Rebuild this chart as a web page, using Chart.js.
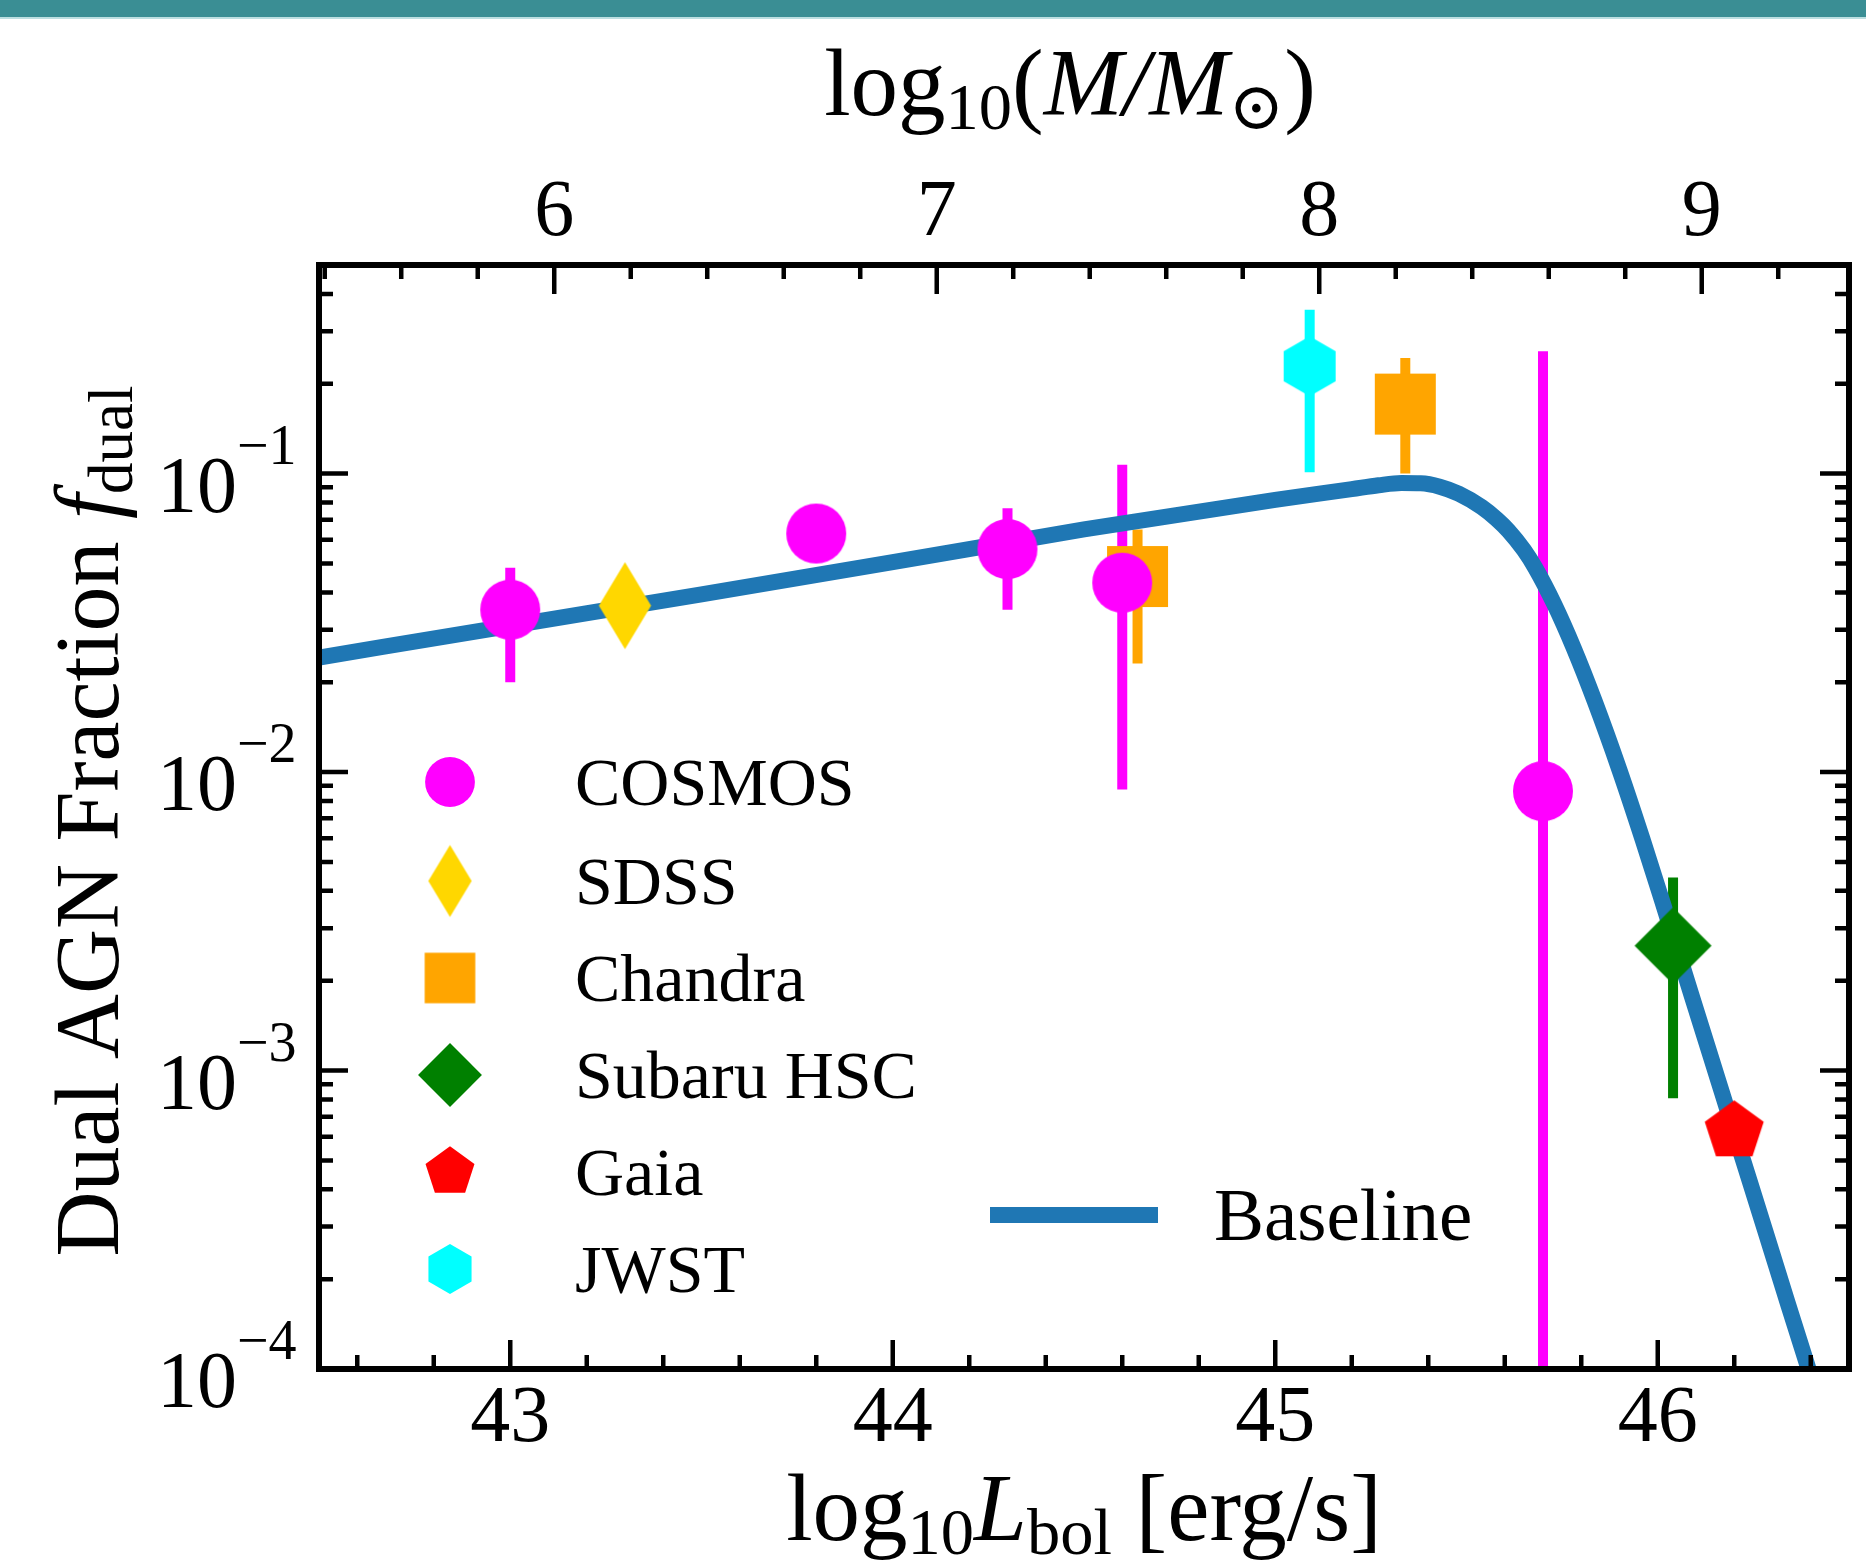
<!DOCTYPE html>
<html>
<head>
<meta charset="utf-8">
<script src="https://cdn.jsdelivr.net/npm/chart.js@4.4.1/dist/chart.umd.min.js"></script>
<style>
  html, body { margin: 0; padding: 0; background: #fff; }
  canvas { display: block; }
</style>
</head>
<body>
<canvas id="fdualChart" width="1866" height="1563"></canvas>
<script>
// log10 Lbol of each measurement, dual fraction and its error range
var cosmosL  = [43.00, 43.80, 44.30, 44.60, 45.70];
var cosmosF  = [0.0350, 0.0630, 0.0559, 0.0431, 0.00863];
var cosmosLo = [0.0200, null, 0.0350, 0.00875, 0.00005];
var cosmosHi = [0.0484, null, 0.0766, 0.107, 0.257];

var sdssL = [43.30];
var sdssF = [0.0361];

var chandraL  = [44.64, 45.34];
var chandraF  = [0.0452, 0.171];
var chandraLo = [0.0231, 0.100];
var chandraHi = [0.065, 0.244];

var hscL  = [46.04];
var hscF  = [0.00262];
var hscLo = [0.000807];
var hscHi = [0.00443];

var gaiaL = [46.20];
var gaiaF = [0.000626];

var jwstL  = [45.09];
var jwstF  = [0.229];
var jwstLo = [0.101];
var jwstHi = [0.354];

// baseline model curve
var baseL = [42.50, 43.00, 43.50, 44.00, 44.50, 45.00, 45.20, 45.27, 45.33, 45.38, 45.43, 45.48,
             45.54, 45.58, 45.61, 45.65, 45.68, 45.73, 45.78, 45.835, 45.90, 45.96, 46.01, 46.09,
             46.16, 46.22, 46.28, 46.34, 46.39, 46.42];
var baseF = [0.0242, 0.0309, 0.0394, 0.0505, 0.0650, 0.0817, 0.0887, 0.0914, 0.0930, 0.0928, 0.0904, 0.0856,
             0.0772, 0.0702, 0.0643, 0.0555, 0.0483, 0.0364, 0.0261, 0.0173, 0.01016, 0.00597, 0.00375, 0.00176,
             0.000909, 0.000516, 0.000293, 0.000166, 0.000104, 0.0000781];

var seriesNames = ['COSMOS', 'SDSS', 'Chandra', 'Subaru HSC', 'Gaia', 'JWST'];
var baselineName = 'Baseline';

// axis ticks
var xTicks = [42.6, 42.8, 43.0, 43.2, 43.4, 43.6, 43.8, 44.0, 44.2, 44.4, 44.6, 44.8, 45.0,
              45.2, 45.4, 45.6, 45.8, 46.0, 46.2, 46.4];
var xLabels = [43, 44, 45, 46];
var mTicks = [5.4, 5.6, 5.8, 6.0, 6.2, 6.4, 6.6, 6.8, 7.0, 7.2, 7.4, 7.6, 7.8, 8.0,
              8.2, 8.4, 8.6, 8.8, 9.0, 9.2];
var mLabels = [6, 7, 8, 9];
var massOffset = 37.115;   // log M = log Lbol - offset
var yTicks = [0.0002, 0.0003, 0.0004, 0.0005, 0.0006, 0.0007, 0.0008, 0.0009, 0.001,
              0.002, 0.003, 0.004, 0.005, 0.006, 0.007, 0.008, 0.009, 0.01,
              0.02, 0.03, 0.04, 0.05, 0.06, 0.07, 0.08, 0.09, 0.1,
              0.2, 0.3, 0.4, 0.0001];
var yLabels = [0.0001, 0.001, 0.01, 0.1];
var yExp = ['\u22124', '\u22123', '\u22122', '\u22121'];

var FAM = '"Liberation Serif", "DejaVu Serif", serif';

// marker shapes drawn once into small canvases
function marker(kind, color, s) {
  var size = Math.ceil(2 * s + 4);
  var c = document.createElement('canvas');
  c.width = size; c.height = size;
  var g = c.getContext('2d');
  g.translate(size / 2, size / 2);
  g.fillStyle = color;
  g.beginPath();
  var i, a;
  if (kind === 'circle') {
    g.arc(0, 0, s, 0, Math.PI * 2);
  } else if (kind === 'thin_diamond') {
    g.moveTo(0, -s); g.lineTo(s * 0.6, 0); g.lineTo(0, s); g.lineTo(-s * 0.6, 0);
  } else if (kind === 'square') {
    g.rect(-s, -s, 2 * s, 2 * s);
  } else if (kind === 'diamond') {
    g.moveTo(0, -s); g.lineTo(s, 0); g.lineTo(0, s); g.lineTo(-s, 0);
  } else if (kind === 'pentagon' || kind === 'hexagon') {
    var n = kind === 'pentagon' ? 5 : 6;
    for (i = 0; i < n; i++) {
      a = -Math.PI / 2 + i * 2 * Math.PI / n;
      if (i === 0) g.moveTo(s * Math.cos(a), s * Math.sin(a));
      else g.lineTo(s * Math.cos(a), s * Math.sin(a));
    }
  }
  g.closePath();
  g.fill();
  return c;
}

var colors = ['#ff00ff', '#ffd700', '#ffa500', '#008000', '#ff0000', '#00ffff'];
var kinds = ['circle', 'thin_diamond', 'square', 'diamond', 'pentagon', 'hexagon'];
var sizes = [30, 43.5, 30.5, 38.5, 31, 30];
var plotMarks = kinds.map(function (k, i) { return marker(k, colors[i], sizes[i]); });
var legendMarks = kinds.map(function (k, i) { return marker(k, colors[i], sizes[i] * 0.83); });

function pts(L, F) {
  return L.map(function (x, i) { return { x: x, y: F[i] }; });
}

function errBars(L, lo, hi, color) {
  var out = [];
  for (var i = 0; i < L.length; i++) {
    if (lo[i] == null) continue;
    out.push({
      data: [{ x: L[i], y: lo[i] }, { x: L[i], y: hi[i] }],
      showLine: true, borderColor: color, borderWidth: 10, borderCapStyle: 'butt',
      pointRadius: 0, order: 3, clip: 0
    });
  }
  return out;
}

function markSet(L, F, idx) {
  return {
    label: seriesNames[idx], data: pts(L, F), pointStyle: plotMarks[idx],
    pointRadius: 30, backgroundColor: colors[idx], borderWidth: 0, order: 1, clip: false
  };
}

var datasets = []
  .concat(errBars(cosmosL, cosmosLo, cosmosHi, colors[0]))
  .concat(errBars(chandraL, chandraLo, chandraHi, colors[2]))
  .concat(errBars(hscL, hscLo, hscHi, colors[3]))
  .concat(errBars(jwstL, jwstLo, jwstHi, colors[5]))
  .concat([{
    label: baselineName, data: pts(baseL, baseF), showLine: true,
    borderColor: '#1f77b4', borderWidth: 16, borderJoinStyle: 'round',
    cubicInterpolationMode: 'monotone', pointRadius: 0, order: 2, clip: 0
  }])
  .concat([
    markSet(cosmosL, cosmosF, 0),
    markSet(sdssL, sdssF, 1),
    markSet(chandraL, chandraF, 2),
    markSet(hscL, hscF, 3),
    markSet(gaiaL, gaiaF, 4),
    markSet(jwstL, jwstF, 5)
  ]);

function rich(ctx, parts, x, y, size) {
  function fontFor(k) {
    var s = (k === 'b') ? size * 0.7 : size;
    return (k === 'i' ? 'italic ' : '') + s + 'px ' + FAM;
  }
  var total = 0;
  parts.forEach(function (p) { ctx.font = fontFor(p[1]); total += ctx.measureText(p[0]).width; });
  var cx = x - total / 2;
  ctx.textAlign = 'left';
  ctx.textBaseline = 'alphabetic';
  parts.forEach(function (p) {
    ctx.font = fontFor(p[1]);
    ctx.fillText(p[0], cx, y + (p[1] === 'b' ? size * 0.15 : 0));
    cx += ctx.measureText(p[0]).width;
  });
}

var decor = {
  id: 'decor',
  beforeDraw: function (chart) {
    var ctx = chart.ctx;
    ctx.save();
    ctx.fillStyle = '#fff';
    ctx.fillRect(0, 0, chart.width, chart.height);
    ctx.fillStyle = '#3a8e94';
    ctx.fillRect(0, 0, chart.width, 17);
    ctx.fillStyle = '#bcdfe1';
    ctx.fillRect(0, 17, chart.width, 2);
    ctx.restore();
  },
  afterDraw: function (chart) {
    var ctx = chart.ctx, a = chart.chartArea;
    var sx = chart.scales.x, sm = chart.scales.m, sy = chart.scales.y;
    ctx.save();
    ctx.strokeStyle = '#000';
    ctx.fillStyle = '#000';

    // inward ticks on all sides
    ctx.lineWidth = 4.5;
    ctx.beginPath();
    sx.ticks.forEach(function (t) {
      var px = sx.getPixelForValue(t.value);
      var len = xLabels.indexOf(Math.round(t.value * 10) / 10) >= 0 ? 29 : 14;
      ctx.moveTo(px, a.bottom); ctx.lineTo(px, a.bottom - len);
    });
    sm.ticks.forEach(function (t) {
      var px = sm.getPixelForValue(t.value);
      if (px < a.left + 3 || px > a.right - 3) return;
      var len = mLabels.indexOf(Math.round(t.value * 10) / 10) >= 0 ? 29 : 14;
      ctx.moveTo(px, a.top); ctx.lineTo(px, a.top + len);
    });
    sy.ticks.forEach(function (t) {
      var py = sy.getPixelForValue(t.value);
      var len = yLabels.indexOf(t.value) >= 0 ? 29 : 14;
      ctx.moveTo(a.left, py); ctx.lineTo(a.left + len, py);
      ctx.moveTo(a.right, py); ctx.lineTo(a.right - len, py);
    });
    ctx.stroke();

    // frame
    ctx.lineWidth = 6;
    ctx.strokeRect(a.left, a.top, a.right - a.left, a.bottom - a.top);

    // y tick labels 10^n
    yLabels.forEach(function (v, i) {
      var py = sy.getPixelForValue(v);
      ctx.font = '80px ' + FAM;
      ctx.textAlign = 'right';
      ctx.textBaseline = 'alphabetic';
      ctx.fillText('10', 237, py + 38);
      ctx.font = '56px ' + FAM;
      ctx.textAlign = 'left';
      ctx.fillText(yExp[i], 237, py - 10);
    });

    // axis titles
    var cxm = (a.left + a.right) / 2;
    rich(ctx, [['log', 'r'], ['10', 'b'], ['L', 'i'], ['bol', 'b'], [' [erg/s]', 'r']], cxm, 1540, 95);
    rich(ctx, [['log', 'r'], ['10', 'b'], ['(', 'r'], ['M', 'i'], ['/', 'i'], ['M', 'i'], ['\u2299', 'b'], [')', 'r']], cxm - 14, 115, 95);
    ctx.save();
    ctx.translate(118, (a.top + a.bottom) / 2 + 4);
    ctx.rotate(-Math.PI / 2);
    rich(ctx, [['Dual AGN Fraction ', 'r'], ['f', 'i'], ['dual', 'b']], 0, 0, 90);
    ctx.restore();

    // legend
    var rowY = [782, 881, 978, 1075, 1172, 1269];
    ctx.font = '68px ' + FAM;
    ctx.textAlign = 'left';
    ctx.textBaseline = 'alphabetic';
    seriesNames.forEach(function (name, i) {
      var m = legendMarks[i];
      ctx.drawImage(m, 450 - m.width / 2, rowY[i] - m.height / 2);
      ctx.fillText(name, 575, rowY[i] + 23);
    });
    ctx.strokeStyle = '#1f77b4';
    ctx.lineWidth = 16;
    ctx.lineCap = 'butt';
    ctx.beginPath();
    ctx.moveTo(990, 1215); ctx.lineTo(1158, 1215);
    ctx.stroke();
    ctx.font = '75px ' + FAM;
    ctx.fillText(baselineName, 1214, 1240);
    ctx.restore();
  }
};

new Chart(document.getElementById('fdualChart'), {
  type: 'scatter',
  data: { datasets: datasets },
  options: {
    responsive: false,
    animation: false,
    devicePixelRatio: 1,
    layout: { autoPadding: false, padding: { left: 0, right: 17, top: 0, bottom: 0 } },
    plugins: { legend: { display: false }, tooltip: { enabled: false } },
    scales: {
      x: {
        type: 'linear', position: 'bottom', min: 42.5, max: 46.5, bounds: 'data',
        grid: { display: false }, border: { display: false },
        afterBuildTicks: function (s) { s.ticks = xTicks.map(function (v) { return { value: v }; }); },
        afterFit: function (s) { s.height = 194; },
        ticks: {
          autoSkip: false, maxRotation: 0, minRotation: 0, padding: -5, color: '#000',
          font: { family: FAM, size: 80 },
          callback: function (v) { return xLabels.indexOf(Math.round(v * 10) / 10) >= 0 ? String(Math.round(v)) : ''; }
        }
      },
      m: {
        type: 'linear', position: 'top', min: 42.5 - massOffset, max: 46.5 - massOffset, bounds: 'data',
        grid: { display: false }, border: { display: false },
        afterBuildTicks: function (s) { s.ticks = mTicks.map(function (v) { return { value: v }; }); },
        afterFit: function (s) { s.height = 265; },
        ticks: {
          autoSkip: false, maxRotation: 0, minRotation: 0, padding: -5, color: '#000',
          font: { family: FAM, size: 80 },
          callback: function (v) { return mLabels.indexOf(Math.round(v * 10) / 10) >= 0 ? String(Math.round(v)) : ''; }
        }
      },
      y: {
        type: 'logarithmic', position: 'left', min: 0.0001, max: 0.5,
        grid: { display: false }, border: { display: false },
        afterBuildTicks: function (s) { s.ticks = yTicks.map(function (v) { return { value: v }; }); },
        afterFit: function (s) { s.width = 319; },
        ticks: { display: false }
      }
    }
  },
  plugins: [decor]
});
</script>
</body>
</html>
